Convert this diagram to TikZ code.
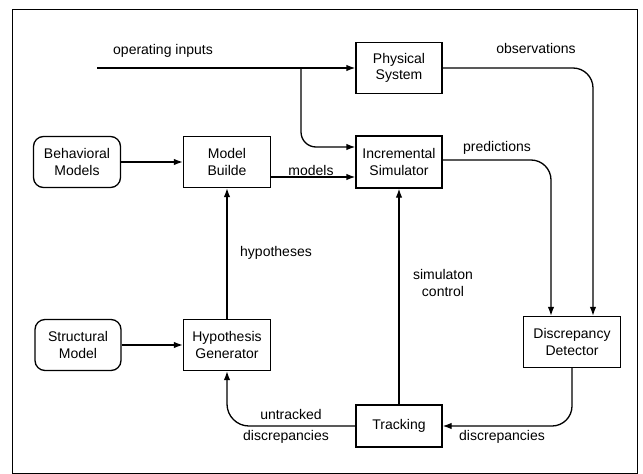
\documentclass[tikz,border=0pt]{standalone}
\usepackage{fontspec}
\setmainfont{Liberation Sans}
\usepackage{tikz}
\usetikzlibrary{calc,shapes,arrows.meta,positioning}

\tikzset{
  blk/.style={draw=black, line width=1.3pt, align=center, inner sep=0pt,
              minimum width=86pt, minimum height=52pt},
  rblk/.style={blk, rounded corners=10pt},
  lbl/.style={inner sep=0pt, align=center},
}

\begin{document}
\begin{tikzpicture}[>={Latex[length=9pt,width=6.5pt]}, x=1pt, y=-1pt,
    line width=1.3pt, font=\fontsize{14}{16.5}\selectfont]

    \useasboundingbox (0,0) rectangle (643,474);
    \draw [line width=0.9pt] (12,9) rectangle (637,473);

    % boxes
    \node[blk] (phys) at (399,68) [minimum height=51pt] {Physical\\System};
    \node[rblk] (behav) at (77,162) [minimum width=87pt, minimum height=51pt] {Behavioral\\Models};
    \node[blk] (build) at (227,162) [minimum width=87pt, minimum height=51pt] {Model\\Builde};
    \node[blk] (sim) at (399,162) {Incremental\\Simulator};
    \node[rblk] (struct) at (78,345) [minimum width=86pt, minimum height=51pt] {Structural\\Model};
    \node[blk] (hyp) at (227,345) [minimum width=87pt, minimum height=51pt] {Hypothesis\\Generator};
    \node[blk] (det) at (572,342) [minimum width=97pt, minimum height=51pt] {Discrepancy\\Detector};
    \node[blk] (track) at (399,426) [minimum height=42pt] {Tracking};

    % free ends
    \coordinate (in) at (97,68);
    \coordinate (br) at (301,68);

    % connectors
    \draw [->] (in) -- (phys);
    \draw [->, rounded corners=15pt] (br) |- ([yshift=15pt]sim.west);
    \draw [->, rounded corners=20pt] (phys.east) -| ([xshift=21pt]det.north);
    \draw [->, rounded corners=20pt] ([yshift=2pt]sim.east) -| ([xshift=-21pt]det.north);
    \draw [->] (behav) -- (build);
    \draw [->] ([yshift=-15pt]build.east) -- ([yshift=-15pt]sim.west);
    \draw [->] (hyp) -- (build);
    \draw [->] (struct) -- (hyp);
    \draw [->] (track) -- (sim);
    \draw [->, rounded corners=20pt] (det.south) |- (track.east);
    \draw [->, rounded corners=22pt] (track.west) -| (hyp.south);

    % labels
    \node[lbl] (lin) at (163,51) {operating inputs};
    \node[lbl] (lobs) at (536,48) {observations};
    \node[lbl] (lpred) at (497,148) {predictions};
    \node[lbl] (lmod) at (311,170) {models};
    \node[lbl] (lhyp) at (276,253) {hypotheses};
    \node[lbl] (lctl) at (443,283) {simulaton\\control};
    \node[lbl] (luntr) at (291,414) {untracked};
    \node[lbl] (ldis1) at (286,437) {discrepancies};
    \node[lbl] (ldis2) at (502,437) {discrepancies};

\end{tikzpicture}
\end{document}
